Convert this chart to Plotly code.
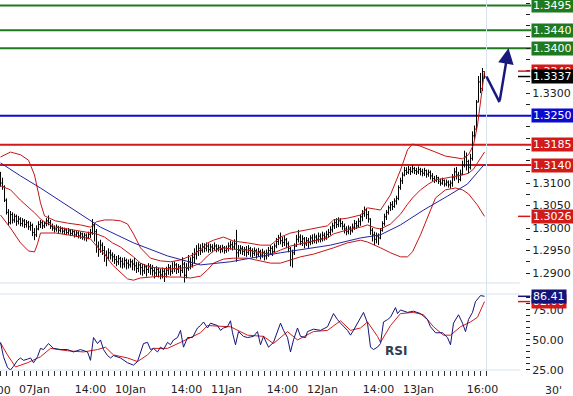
import plotly.graph_objects as go

FONT = "DejaVu Sans"

# ---------------- price bars (30-minute bars, slot = bar number) ----------------
close = [1.3100,1.3092,1.3062,1.3035,1.3012,1.3030,1.3018,1.3026,1.3015,1.3020,
1.3010,1.3016,1.3008,1.3012,1.3003,1.3006,1.2990,1.2985,1.2998,1.3008,
1.3012,1.3005,1.3010,1.3016,1.3012,1.3004,1.3000,1.2998,1.3002,1.2995,
1.2999,1.2993,1.2996,1.2990,1.2994,1.2988,1.2992,1.2985,1.2989,1.2983,
1.2987,1.2980,1.2984,1.2978,1.2986,1.2990,1.3005,1.2992,1.2960,1.2952,
1.2962,1.2950,1.2940,1.2935,1.2945,1.2940,1.2936,1.2930,1.2925,1.2932,
1.2926,1.2920,1.2928,1.2922,1.2918,1.2925,1.2920,1.2916,1.2910,1.2918,
1.2912,1.2905,1.2914,1.2908,1.2915,1.2910,1.2905,1.2900,1.2908,1.2902,
1.2896,1.2904,1.2898,1.2906,1.2912,1.2904,1.2910,1.2918,1.2908,1.2914,
1.2906,1.2920,1.2895,1.2910,1.2925,1.2918,1.2935,1.2942,1.2948,1.2955,
1.2950,1.2958,1.2955,1.2960,1.2952,1.2958,1.2955,1.2960,1.2954,1.2957,
1.2952,1.2956,1.2950,1.2954,1.2960,1.2963,1.2958,1.2965,1.2945,1.2950,
1.2955,1.2948,1.2952,1.2946,1.2954,1.2950,1.2944,1.2950,1.2942,1.2948,
1.2940,1.2946,1.2938,1.2944,1.2950,1.2955,1.2948,1.2960,1.2970,1.2978,
1.2972,1.2968,1.2974,1.2965,1.2955,1.2930,1.2945,1.2960,1.2975,1.2980,
1.2970,1.2976,1.2965,1.2972,1.2968,1.2978,1.2972,1.2980,1.2975,1.2982,
1.2976,1.2984,1.2980,1.2986,1.2990,1.2996,1.3005,1.3012,1.3008,1.3016,
1.3010,1.3004,1.2998,1.2992,1.3000,1.2994,1.3002,1.3010,1.3005,1.3015,
1.3025,1.3032,1.3040,1.3030,1.3020,1.2995,1.2985,1.2975,1.2982,1.2978,
1.2995,1.3010,1.3025,1.3035,1.3045,1.3052,1.3048,1.3060,1.3066,1.3090,
1.3105,1.3118,1.3128,1.3124,1.3130,1.3126,1.3132,1.3128,1.3125,1.3130,
1.3126,1.3122,1.3128,1.3120,1.3124,1.3116,1.3110,1.3106,1.3112,1.3104,
1.3100,1.3106,1.3098,1.3102,1.3096,1.3100,1.3112,1.3125,1.3118,1.3108,
1.3120,1.3140,1.3158,1.3148,1.3135,1.3155,1.3205,1.3220,1.3280,1.3325,
1.3310,1.3348,1.3337]

open_ = [1.3110,1.3100,1.3092,1.3062,1.3035,1.3012,1.3030,1.3018,1.3026,1.3015,
1.3020,1.3010,1.3016,1.3008,1.3012,1.3003,1.3006,1.2990,1.2985,1.2998,
1.3008,1.3012,1.3005,1.3010,1.3016,1.3012,1.3004,1.3000,1.2998,1.3002,
1.2995,1.2999,1.2993,1.2996,1.2990,1.2994,1.2988,1.2992,1.2985,1.2989,
1.2983,1.2987,1.2980,1.2984,1.2978,1.2986,1.2990,1.3005,1.2992,1.2960,
1.2952,1.2962,1.2950,1.2940,1.2935,1.2945,1.2940,1.2936,1.2930,1.2925,
1.2932,1.2926,1.2920,1.2928,1.2922,1.2918,1.2925,1.2920,1.2916,1.2910,
1.2918,1.2912,1.2905,1.2914,1.2908,1.2915,1.2910,1.2905,1.2900,1.2908,
1.2902,1.2896,1.2904,1.2898,1.2906,1.2912,1.2904,1.2910,1.2918,1.2908,
1.2914,1.2906,1.2920,1.2895,1.2910,1.2925,1.2918,1.2935,1.2942,1.2948,
1.2955,1.2950,1.2958,1.2955,1.2960,1.2952,1.2958,1.2955,1.2960,1.2954,
1.2957,1.2952,1.2956,1.2950,1.2954,1.2960,1.2963,1.2958,1.2965,1.2945,
1.2950,1.2955,1.2948,1.2952,1.2946,1.2954,1.2950,1.2944,1.2950,1.2942,
1.2948,1.2940,1.2946,1.2938,1.2944,1.2950,1.2955,1.2948,1.2960,1.2970,
1.2978,1.2972,1.2968,1.2974,1.2965,1.2955,1.2930,1.2945,1.2960,1.2975,
1.2980,1.2970,1.2976,1.2965,1.2972,1.2968,1.2978,1.2972,1.2980,1.2975,
1.2982,1.2976,1.2984,1.2980,1.2986,1.2990,1.2996,1.3005,1.3012,1.3008,
1.3016,1.3010,1.3004,1.2998,1.2992,1.3000,1.2994,1.3002,1.3010,1.3005,
1.3015,1.3025,1.3032,1.3040,1.3030,1.3020,1.2995,1.2985,1.2975,1.2982,
1.2978,1.2995,1.3010,1.3025,1.3035,1.3045,1.3052,1.3048,1.3060,1.3066,
1.3090,1.3105,1.3118,1.3128,1.3124,1.3130,1.3126,1.3132,1.3128,1.3125,
1.3130,1.3126,1.3122,1.3128,1.3120,1.3124,1.3116,1.3110,1.3106,1.3112,
1.3104,1.3100,1.3106,1.3098,1.3102,1.3096,1.3100,1.3112,1.3125,1.3118,
1.3108,1.3120,1.3140,1.3158,1.3148,1.3135,1.3155,1.3205,1.3220,1.3280,
1.3325,1.3310,1.3348]

high = [1.3125,1.3112,1.3095,1.3066,1.3042,1.3038,1.3035,1.3032,1.3030,1.3027,
1.3024,1.3022,1.3020,1.3018,1.3016,1.3014,1.3010,1.3000,1.3006,1.3015,
1.3018,1.3016,1.3014,1.3022,1.3028,1.3018,1.3010,1.3006,1.3008,1.3005,
1.3004,1.3002,1.3001,1.2999,1.3000,1.2998,1.2997,1.2995,1.2994,1.2993,
1.2992,1.2990,1.2989,1.2988,1.2992,1.2998,1.3020,1.3012,1.2998,1.2970,
1.2974,1.2968,1.2960,1.2950,1.2955,1.2952,1.2946,1.2942,1.2938,1.2940,
1.2936,1.2934,1.2935,1.2932,1.2930,1.2932,1.2930,1.2934,1.2925,1.2924,
1.2922,1.2920,1.2920,1.2918,1.2922,1.2920,1.2918,1.2912,1.2915,1.2912,
1.2910,1.2912,1.2910,1.2914,1.2920,1.2918,1.2924,1.2926,1.2922,1.2920,
1.2918,1.2935,1.2925,1.2922,1.2940,1.2935,1.2945,1.2955,1.2962,1.2966,
1.2964,1.2967,1.2966,1.2968,1.2966,1.2965,1.2964,1.2968,1.2964,1.2963,
1.2962,1.2963,1.2960,1.2961,1.2968,1.2972,1.2970,1.2975,1.2996,1.2962,
1.2962,1.2960,1.2958,1.2960,1.2962,1.2958,1.2955,1.2957,1.2954,1.2956,
1.2952,1.2954,1.2950,1.2952,1.2958,1.2962,1.2960,1.2966,1.2978,1.2985,
1.2990,1.2980,1.2982,1.2978,1.2970,1.2958,1.2952,1.2966,1.2985,1.2996,
1.2986,1.2984,1.2980,1.2980,1.2978,1.2984,1.2986,1.2988,1.2985,1.2990,
1.2988,1.2992,1.2990,1.2994,1.2998,1.3004,1.3012,1.3020,1.3022,1.3024,
1.3022,1.3016,1.3010,1.3004,1.3006,1.3004,1.3010,1.3018,1.3016,1.3022,
1.3030,1.3040,1.3048,1.3045,1.3038,1.3022,1.3000,1.2992,1.2990,1.2988,
1.3000,1.3015,1.3032,1.3040,1.3050,1.3058,1.3060,1.3066,1.3072,1.3095,
1.3112,1.3124,1.3136,1.3135,1.3138,1.3136,1.3140,1.3136,1.3134,1.3137,
1.3134,1.3132,1.3134,1.3130,1.3130,1.3128,1.3122,1.3116,1.3118,1.3114,
1.3110,1.3112,1.3108,1.3108,1.3106,1.3106,1.3120,1.3134,1.3136,1.3125,
1.3130,1.3150,1.3172,1.3168,1.3152,1.3165,1.3215,1.3228,1.3285,1.3338,
1.3345,1.3356,1.3348]

low = [1.3092,1.3085,1.3058,1.3030,1.3006,1.3008,1.3010,1.3012,1.3005,1.3008,
1.3004,1.3003,1.3000,1.3001,1.2996,1.2994,1.2982,1.2973,1.2980,1.2995,
1.3000,1.2998,1.3000,1.3004,1.3006,1.2998,1.2994,1.2990,1.2992,1.2988,
1.2990,1.2987,1.2986,1.2984,1.2985,1.2982,1.2983,1.2979,1.2980,1.2977,
1.2976,1.2974,1.2972,1.2970,1.2975,1.2978,1.2985,1.2970,1.2945,1.2936,
1.2945,1.2940,1.2925,1.2915,1.2928,1.2930,1.2925,1.2920,1.2915,1.2918,
1.2912,1.2910,1.2912,1.2908,1.2910,1.2912,1.2906,1.2905,1.2900,1.2902,
1.2896,1.2894,1.2898,1.2892,1.2900,1.2896,1.2894,1.2888,1.2892,1.2890,
1.2886,1.2888,1.2880,1.2890,1.2896,1.2894,1.2898,1.2902,1.2898,1.2900,
1.2892,1.2900,1.2879,1.2888,1.2905,1.2908,1.2912,1.2920,1.2930,1.2938,
1.2940,1.2945,1.2946,1.2948,1.2945,1.2947,1.2946,1.2950,1.2946,1.2948,
1.2944,1.2946,1.2943,1.2945,1.2948,1.2952,1.2950,1.2952,1.2925,1.2935,
1.2942,1.2940,1.2938,1.2936,1.2940,1.2936,1.2934,1.2938,1.2932,1.2936,
1.2930,1.2934,1.2928,1.2930,1.2936,1.2940,1.2938,1.2944,1.2955,1.2962,
1.2964,1.2958,1.2960,1.2955,1.2946,1.2915,1.2912,1.2940,1.2958,1.2968,
1.2962,1.2960,1.2955,1.2960,1.2956,1.2962,1.2964,1.2966,1.2965,1.2968,
1.2968,1.2970,1.2972,1.2974,1.2978,1.2984,1.2990,1.2998,1.3000,1.3002,
1.3002,1.2996,1.2988,1.2984,1.2986,1.2985,1.2990,1.2996,1.2998,1.3002,
1.3005,1.3015,1.3025,1.3020,1.3012,1.2985,1.2970,1.2962,1.2966,1.2962,
1.2975,1.2992,1.3005,1.3018,1.3030,1.3038,1.3040,1.3045,1.3052,1.3062,
1.3085,1.3098,1.3115,1.3118,1.3120,1.3118,1.3122,1.3120,1.3118,1.3120,
1.3117,1.3115,1.3116,1.3112,1.3114,1.3108,1.3104,1.3100,1.3102,1.3098,
1.3094,1.3096,1.3092,1.3093,1.3090,1.3088,1.3092,1.3105,1.3108,1.3100,
1.3104,1.3118,1.3135,1.3128,1.3122,1.3130,1.3150,1.3195,1.3215,1.3280,
1.3300,1.3305,1.3332]

bar_slot = list(range(len(close)))

# ---------------- Bollinger bands (read at sample slots) ----------------
bb_slot = [0,5,10,14,17,18.5,20,22,27.5,33.5,40,45,48,52,56,60,63.5,66.5,70,75,
80,85,90,95,100,103.5,106.5,111.5,116.5,123.5,130,135,140,145,150,156.5,163.5,166.5,173.5,180,
183.5,187.5,190,195,200,203.5,206,210,214,217.5,222.5,227.5,231,234,236.5,238.5,240,242]
bb_upper = [1.3158,1.3169,1.3163,1.3151,1.3118,1.3089,1.3056,1.3027,1.3016,1.3011,
1.3007,1.3002,1.3014,1.3018,1.3018,1.3016,1.3009,1.2987,1.2956,1.2933,
1.2927,1.2925,1.2929,1.2938,1.2951,1.2967,1.2973,1.2980,1.2971,1.2967,
1.2962,1.2962,1.2980,1.2989,1.2993,1.2998,1.3005,1.3018,1.3022,1.3029,
1.3045,1.3042,1.3040,1.3074,1.3129,1.3174,1.3187,1.3182,1.3176,1.3169,
1.3160,1.3156,1.3154,1.3163,1.3185,1.3229,1.3285,1.3349]
bb_middle = [1.3094,1.3085,1.3062,1.3047,1.3034,1.3027,1.3020,1.3014,1.3002,1.2998,
1.2993,1.2989,1.2987,1.2980,1.2967,1.2958,1.2947,1.2936,1.2922,1.2913,
1.2911,1.2909,1.2911,1.2913,1.2922,1.2938,1.2949,1.2956,1.2953,1.2951,
1.2945,1.2942,1.2951,1.2960,1.2965,1.2971,1.2978,1.2987,1.2996,1.3002,
1.3007,1.3000,1.2998,1.3009,1.3031,1.3053,1.3067,1.3085,1.3098,1.3107,
1.3111,1.3116,1.3118,1.3122,1.3131,1.3145,1.3156,1.3169]
bb_lower = [1.3029,1.3000,1.2967,1.2949,1.2947,1.2965,1.2989,1.2989,1.2989,1.2985,
1.2980,1.2976,1.2960,1.2942,1.2918,1.2902,1.2887,1.2884,1.2889,1.2891,
1.2893,1.2891,1.2891,1.2889,1.2893,1.2907,1.2922,1.2931,1.2933,1.2933,
1.2927,1.2922,1.2922,1.2929,1.2936,1.2942,1.2951,1.2956,1.2967,1.2973,
1.2969,1.2960,1.2956,1.2945,1.2936,1.2936,1.2947,1.2985,1.3029,1.3067,
1.3085,1.3089,1.3085,1.3076,1.3062,1.3051,1.3040,1.3026]

# ---------------- long moving average (blue) ----------------
ma_slot = [0,10,20,35,50,66.5,83.5,100,115,140,165,180,190,200,211.5,223.5,233.5,242]
ma_val = [1.3145,1.3116,1.3089,1.3045,1.3002,1.2967,1.2938,1.2918,1.2925,1.2945,
1.2962,1.2978,1.2985,1.3007,1.3040,1.3071,1.3098,1.3142]

# ---------------- RSI and its average ----------------
rsi_slot = [0,1.5,3.5,5,6.5,8.5,10,11.5,13.5,15,16.5,18.5,20,21.5,24,26.5,30,33.5,36.5,40,
43.5,45,46.5,48.5,50,51.5,53.5,55,56.5,60,63.5,66.5,68.5,70,71.5,73.5,75,76.5,78.5,80,
81.5,83.5,85,86.5,88.5,90,91.5,93.5,96,98.5,100,101.5,103.5,105,108.5,110,111.5,113.5,115,116,
117.5,119,121.5,123.5,126.5,128.5,130,131.5,134,136.5,138.5,140,141.5,143.5,145,146.5,148.5,150,152.5,153.5,
156.5,160,163.5,166.5,168.5,170,173.5,175,176.5,180,181.5,183.5,185,186.5,188.5,190,191.5,193.5,195,197.5,
198.5,200,203.5,206.5,210,213.5,215,217.5,221,223.5,225,226.5,229,231,232.5,234,236,237.5,240,242]
rsi_val = [48,36,27,25,28,33,35,33,34,35,31,36,43,42,47,43,42,42,40,42,
40,33,52,47,50,42,37,35,37,35,31,29,32,40,47,48,42,43,40,44,
42,48,46,50,52,58,44,52,52,60,62,65,60,64,62,58,60,61,66,56,
46,57,53,52,53,57,46,53,44,48,57,64,58,52,40,50,60,53,52,57,
59,58,61,72,67,64,58,54,58,69,73,64,44,42,44,47,65,67,69,77,
72,75,73,74,72,67,61,56,56,52,46,64,71,64,57,67,73,82,87,86.41]
rsi_ma_slot = [0,3.5,7.5,13.5,20,25,33.5,41.5,48.5,52.5,56.5,63.5,68.5,73.5,76.5,83.5,90,95,100,103.5,
115,123.5,131.5,136.5,143.5,148.5,156.5,163.5,170,175,180,183.5,188.5,190,195,200,206.5,211.5,216.5,221.5,
225,230,235,238.5,242]
rsi_ma_val = [47.5,37.5,27.5,31,36,43,41,40,42,44,37.5,35,32,37.5,43,43,48,52,56,62,
61,54,53,47,57,50,57,58,66,58,60,65,53,48,62,72,73,71,61,54,
54,61,65,69,82]

# ---------------- levels ----------------
resistance = [1.3495, 1.3440, 1.3400]
pivot = [1.3250]
support = [1.3185, 1.3140]

# forecast path
fc_slot = [243, 249.5, 254]
fc_price = [1.3337, 1.3280, 1.3400]

# time-axis labels
time_slot = [-3, 17, 45, 65, 93, 113, 141, 161, 189, 209, 241]
time_text = ["14:00", "07Jan", "14:00", "10Jan", "14:00", "11Jan", "14:00", "12Jan", "14:00", "13Jan", "16:00"]
price_ticks = [1.3300, 1.3100, 1.3050, 1.3000, 1.2950, 1.2900]
rsi_ticks = [75, 50, 25]

# ---------------- colours / layout constants ----------------
GREEN = "#1f7a1f"
BLUE = "#0b0bd0"
RED = "#d21a1a"
BBRED = "#c81414"
NAVY = "#141478"
GRID = "#d6e2ec"

X_RANGE = [-0.25, 262.25]
Y_RANGE = [1.28778, 1.35072]
RSI_RANGE = [24.95, 88.33]
PLOT_H = 370.0
MAIN_BOTTOM = 1 - 283 / PLOT_H
RSI_TOP = 76 / PLOT_H

fig = go.Figure()

fig.add_trace(go.Ohlc(x=bar_slot, open=open_, high=high, low=low, close=close,
                      increasing=dict(line=dict(color="black", width=1)),
                      decreasing=dict(line=dict(color="black", width=1)),
                      tickwidth=0.5, hoverinfo="skip", xaxis="x", yaxis="y"))
for arr in (bb_upper, bb_middle, bb_lower):
    fig.add_trace(go.Scatter(x=bb_slot, y=arr, mode="lines",
                             line=dict(color=BBRED, width=1), hoverinfo="skip"))
fig.add_trace(go.Scatter(x=ma_slot, y=ma_val, mode="lines",
                         line=dict(color="#2323a0", width=1), hoverinfo="skip"))
fig.add_trace(go.Scatter(x=rsi_ma_slot, y=rsi_ma_val, mode="lines", yaxis="y2",
                         line=dict(color=RED, width=1), hoverinfo="skip"))
fig.add_trace(go.Scatter(x=rsi_slot, y=rsi_val, mode="lines", yaxis="y2",
                         line=dict(color=NAVY, width=1), hoverinfo="skip"))
fig.add_trace(go.Scatter(x=fc_slot[:2], y=fc_price[:2], mode="lines",
                         line=dict(color="#18187f", width=2.5), hoverinfo="skip"))

shapes = []
annotations = []

def level(v, color):
    shapes.append(dict(type="line", xref="paper", yref="y", x0=0, x1=1.012, y0=v, y1=v,
                       line=dict(color=color, width=2), layer="below"))

def box(v, color, yref="y"):
    annotations.append(dict(xref="paper", yref=yref, x=1, y=v, xanchor="left", yanchor="middle",
                            xshift=6, text=f"{v:.4f}" if yref == "y" else f"{v:.2f}",
                            showarrow=False, bgcolor=color, borderpad=1, height=11,
                            font=dict(family=FONT, size=11, color="white")))

def stub(v, color, yref="y"):
    shapes.append(dict(type="line", xref="paper", yref=yref, x0=518 / 525, x1=1.01, y0=v, y1=v,
                       line=dict(color=color, width=1.5)))

for v in resistance:
    level(v, GREEN)
for v in pivot:
    level(v, BLUE)
for v in support:
    level(v, RED)

# panel borders and current-bar line
for yy in (MAIN_BOTTOM, RSI_TOP, 0):
    shapes.append(dict(type="line", xref="paper", yref="paper", x0=0, x1=0.99, y0=yy, y1=yy,
                       line=dict(color=GRID, width=1), layer="below"))
shapes.append(dict(type="line", xref="x", yref="paper", x0=len(close), x1=len(close), y0=-0.015, y1=1,
                   line=dict(color=GRID, width=1), layer="below"))

stub(bb_upper[-1], RED)
stub(close[-1], "black")
stub(bb_lower[-1], RED)
stub(rsi_ma_val[-1], RED, "y2")
stub(rsi_val[-1], NAVY, "y2")

for v in resistance:
    box(v, GREEN)
for v in pivot:
    box(v, BLUE)
for v in support:
    box(v, RED)
box(bb_upper[-1], RED)
box(close[-1], "black")
box(bb_lower[-1], RED)
box(rsi_ma_val[-1], RED, "y2")
box(rsi_val[-1], NAVY, "y2")

# forecast arrow head
annotations.append(dict(xref="x", yref="y", axref="x", ayref="y",
                        x=fc_slot[2], y=fc_price[2], ax=fc_slot[1], ay=fc_price[1],
                        text="", showarrow=True, arrowhead=2, arrowsize=1.25, arrowwidth=2.5,
                        arrowcolor="#18187f"))

# RSI caption
annotations.append(dict(xref="x", yref="y2", x=197.5, y=41, text="<b>RSI</b>", showarrow=False,
                        font=dict(family=FONT, size=12, color="#2e3d4f")))

# partially visible first time label and timeframe label
annotations.append(dict(xref="paper", yref="paper", xanchor="center",
                        x=(time_slot[0] - X_RANGE[0]) / (X_RANGE[1] - X_RANGE[0]),
                        y=0, yanchor="top", yshift=-12, text=time_text[0], showarrow=False,
                        font=dict(family=FONT, size=11, color="#222")))
annotations.append(dict(xref="paper", yref="paper", xanchor="center", x=553 / 525, y=0,
                        yanchor="top", yshift=-12,
                        text="30'", showarrow=False, font=dict(family=FONT, size=11, color="#222")))

fig.update_layout(
    width=573, height=396,
    margin=dict(l=0, r=48, t=0, b=26),
    paper_bgcolor="white", plot_bgcolor="white",
    showlegend=False, hovermode=False,
    font=dict(family=FONT, size=11, color="#222"),
    xaxis=dict(range=X_RANGE, anchor="y2", tickmode="array", tickvals=time_slot[1:], ticktext=time_text[1:],
               ticks="", showgrid=False, zeroline=False, showline=False,
               rangeslider=dict(visible=False), ticklabelstandoff=11,
               minor=dict(ticks="outside", ticklen=5, tickwidth=1, tickcolor="#333",
                          tickmode="array", tickvals=list(range(0, len(close) + 1, 3)), showgrid=False)),
    yaxis=dict(domain=[MAIN_BOTTOM, 1], range=Y_RANGE, side="right", anchor="x",
               tickmode="array", tickvals=price_ticks, ticktext=[f"{v:.4f}" for v in price_ticks],
               ticks="outside", ticklen=4, tickcolor="#222", showgrid=False, zeroline=False, showline=False,
               minor=dict(ticks="outside", ticklen=4, tickcolor="#222", dtick=0.0025, tick0=1.29, showgrid=False)),
    yaxis2=dict(domain=[0, RSI_TOP], range=RSI_RANGE, side="right", anchor="x",
                tickmode="array", tickvals=rsi_ticks, ticktext=[f"{v:.2f}" for v in rsi_ticks],
                ticks="outside", ticklen=4, tickcolor="#222", showgrid=False, zeroline=False, showline=False,
                minor=dict(ticks="outside", ticklen=4, tickcolor="#222", dtick=5, tick0=25, showgrid=False)),
    shapes=shapes, annotations=annotations,
)

fig.write_html("out.html")
